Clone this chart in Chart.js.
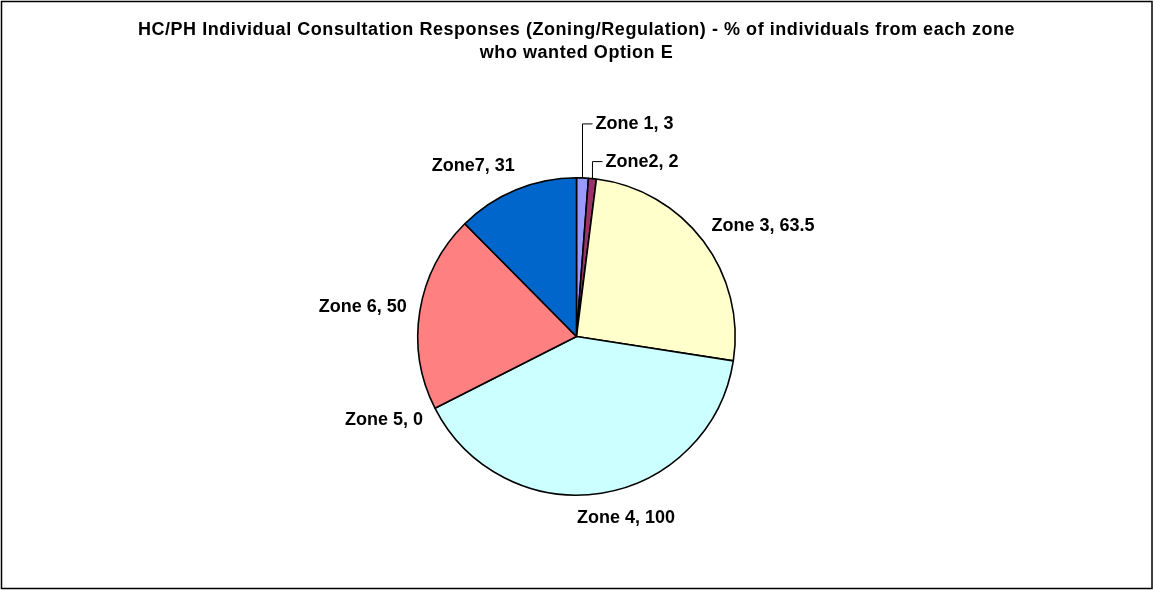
<!DOCTYPE html>
<html>
<head>
<meta charset="utf-8">
<script src="https://cdn.jsdelivr.net/npm/chart.js@4.4.1/dist/chart.umd.min.js"></script>
<style>
  html, body { margin: 0; padding: 0; background: #fff; }
  #wrap { position: relative; width: 1153px; height: 590px; }
</style>
</head>
<body>
<div id="wrap"><canvas id="myZoneChart" width="1153" height="590"></canvas></div>
<script>
// data
var zoneLabels = ['Zone 1', 'Zone2', 'Zone 3', 'Zone 4', 'Zone 5', 'Zone 6', 'Zone7'];
var zoneValues = [3, 2, 63.5, 100, 0, 50, 31];
var zoneColors = ['#9999FF', '#993366', '#FFFFCC', '#CCFFFF', '#660066', '#FF8080', '#0066CC'];
var titleLines = [
    'HC/PH Individual Consultation Responses (Zoning/Regulation) - % of individuals from each zone',
    'who wanted Option E'
];

var labelFont = 'bold 18px "Liberation Sans", Arial, sans-serif';
var titleFont = 'bold 18px "Liberation Sans", Arial, sans-serif';

// frame round the whole chart + the title (excel spreads the letters a bit)
var framePlugin = {
    id: 'frame',
    beforeDraw: function (chart) {
        var ctx = chart.ctx;
        ctx.save();
        ctx.fillStyle = '#fff';
        ctx.fillRect(0, 0, chart.width, chart.height);
        ctx.strokeStyle = '#000';
        ctx.lineWidth = 1.5;
        ctx.strokeRect(1.5, 1.5, chart.width - 2.5, chart.height - 3);

        ctx.font = titleFont;
        ctx.letterSpacing = '0.55px';
        ctx.fillStyle = '#000';
        ctx.textAlign = 'center';
        ctx.textBaseline = 'middle';
        for (var i = 0; i < titleLines.length; i++) {
            ctx.fillText(titleLines[i], chart.width / 2, 30 + i * 23);
        }
        ctx.restore();
    }
};

function clamp(v, lo, hi) {
    return Math.max(lo, Math.min(hi, v));
}

// "Zone x, value" labels outside each slice, small ones get a leader line
var sliceLabelPlugin = {
    id: 'sliceLabels',
    afterDatasetsDraw: function (chart, args, opts) {
        var ctx = chart.ctx;
        var meta = chart.getDatasetMeta(0);
        ctx.save();
        ctx.font = labelFont;
        ctx.fillStyle = '#000';
        ctx.strokeStyle = '#000';
        ctx.lineWidth = 1;
        ctx.textBaseline = 'middle';
        meta.data.forEach(function (arc, i) {
            var p = arc.getProps(['x', 'y', 'startAngle', 'endAngle', 'outerRadius'], true);
            var mid = (p.startAngle + p.endAngle) / 2;
            var dx = Math.cos(mid), dy = Math.sin(mid);
            var text = chart.data.labels[i] + ', ' + chart.data.datasets[0].data[i];
            var w = ctx.measureText(text).width;
            var h = 18;
            var lift = opts.leaders[i];
            if (lift) {
                var ex = p.x + dx * p.outerRadius;
                var ey = p.y + dy * p.outerRadius;
                ctx.beginPath();
                ctx.moveTo(ex, ey);
                ctx.lineTo(ex, ey - lift);
                ctx.lineTo(ex + 10, ey - lift);
                ctx.stroke();
                ctx.textAlign = 'left';
                ctx.fillText(text, ex + 13, ey - lift);
                return;
            }
            var ax = p.x + dx * (p.outerRadius + opts.gap);
            var ay = p.y + dy * (p.outerRadius + opts.gap);
            ctx.textAlign = 'center';
            ctx.fillText(text, ax + clamp(dx * 2.8, -0.85, 0.85) * w / 2, ay + dy * h * 0.3);
        });
        ctx.restore();
    }
};

var ctx = document.getElementById('myZoneChart').getContext('2d');
var myZoneChart = new Chart(ctx, {
    type: 'pie',
    data: {
        labels: zoneLabels,
        datasets: [{
            data: zoneValues,
            backgroundColor: zoneColors,
            borderColor: '#000',
            borderWidth: 1.6
        }]
    },
    options: {
        responsive: false,
        animation: false,
        layout: {
            padding: { top: 177, bottom: 94, left: 0, right: 0 }
        },
        plugins: {
            legend: { display: false },
            tooltip: { enabled: false },
            title: { display: false },
            sliceLabels: {
                gap: 20,
                leaders: [54, 17, 0, 0, 0, 0, 0]
            }
        }
    },
    plugins: [framePlugin, sliceLabelPlugin]
});
</script>
</body>
</html>
